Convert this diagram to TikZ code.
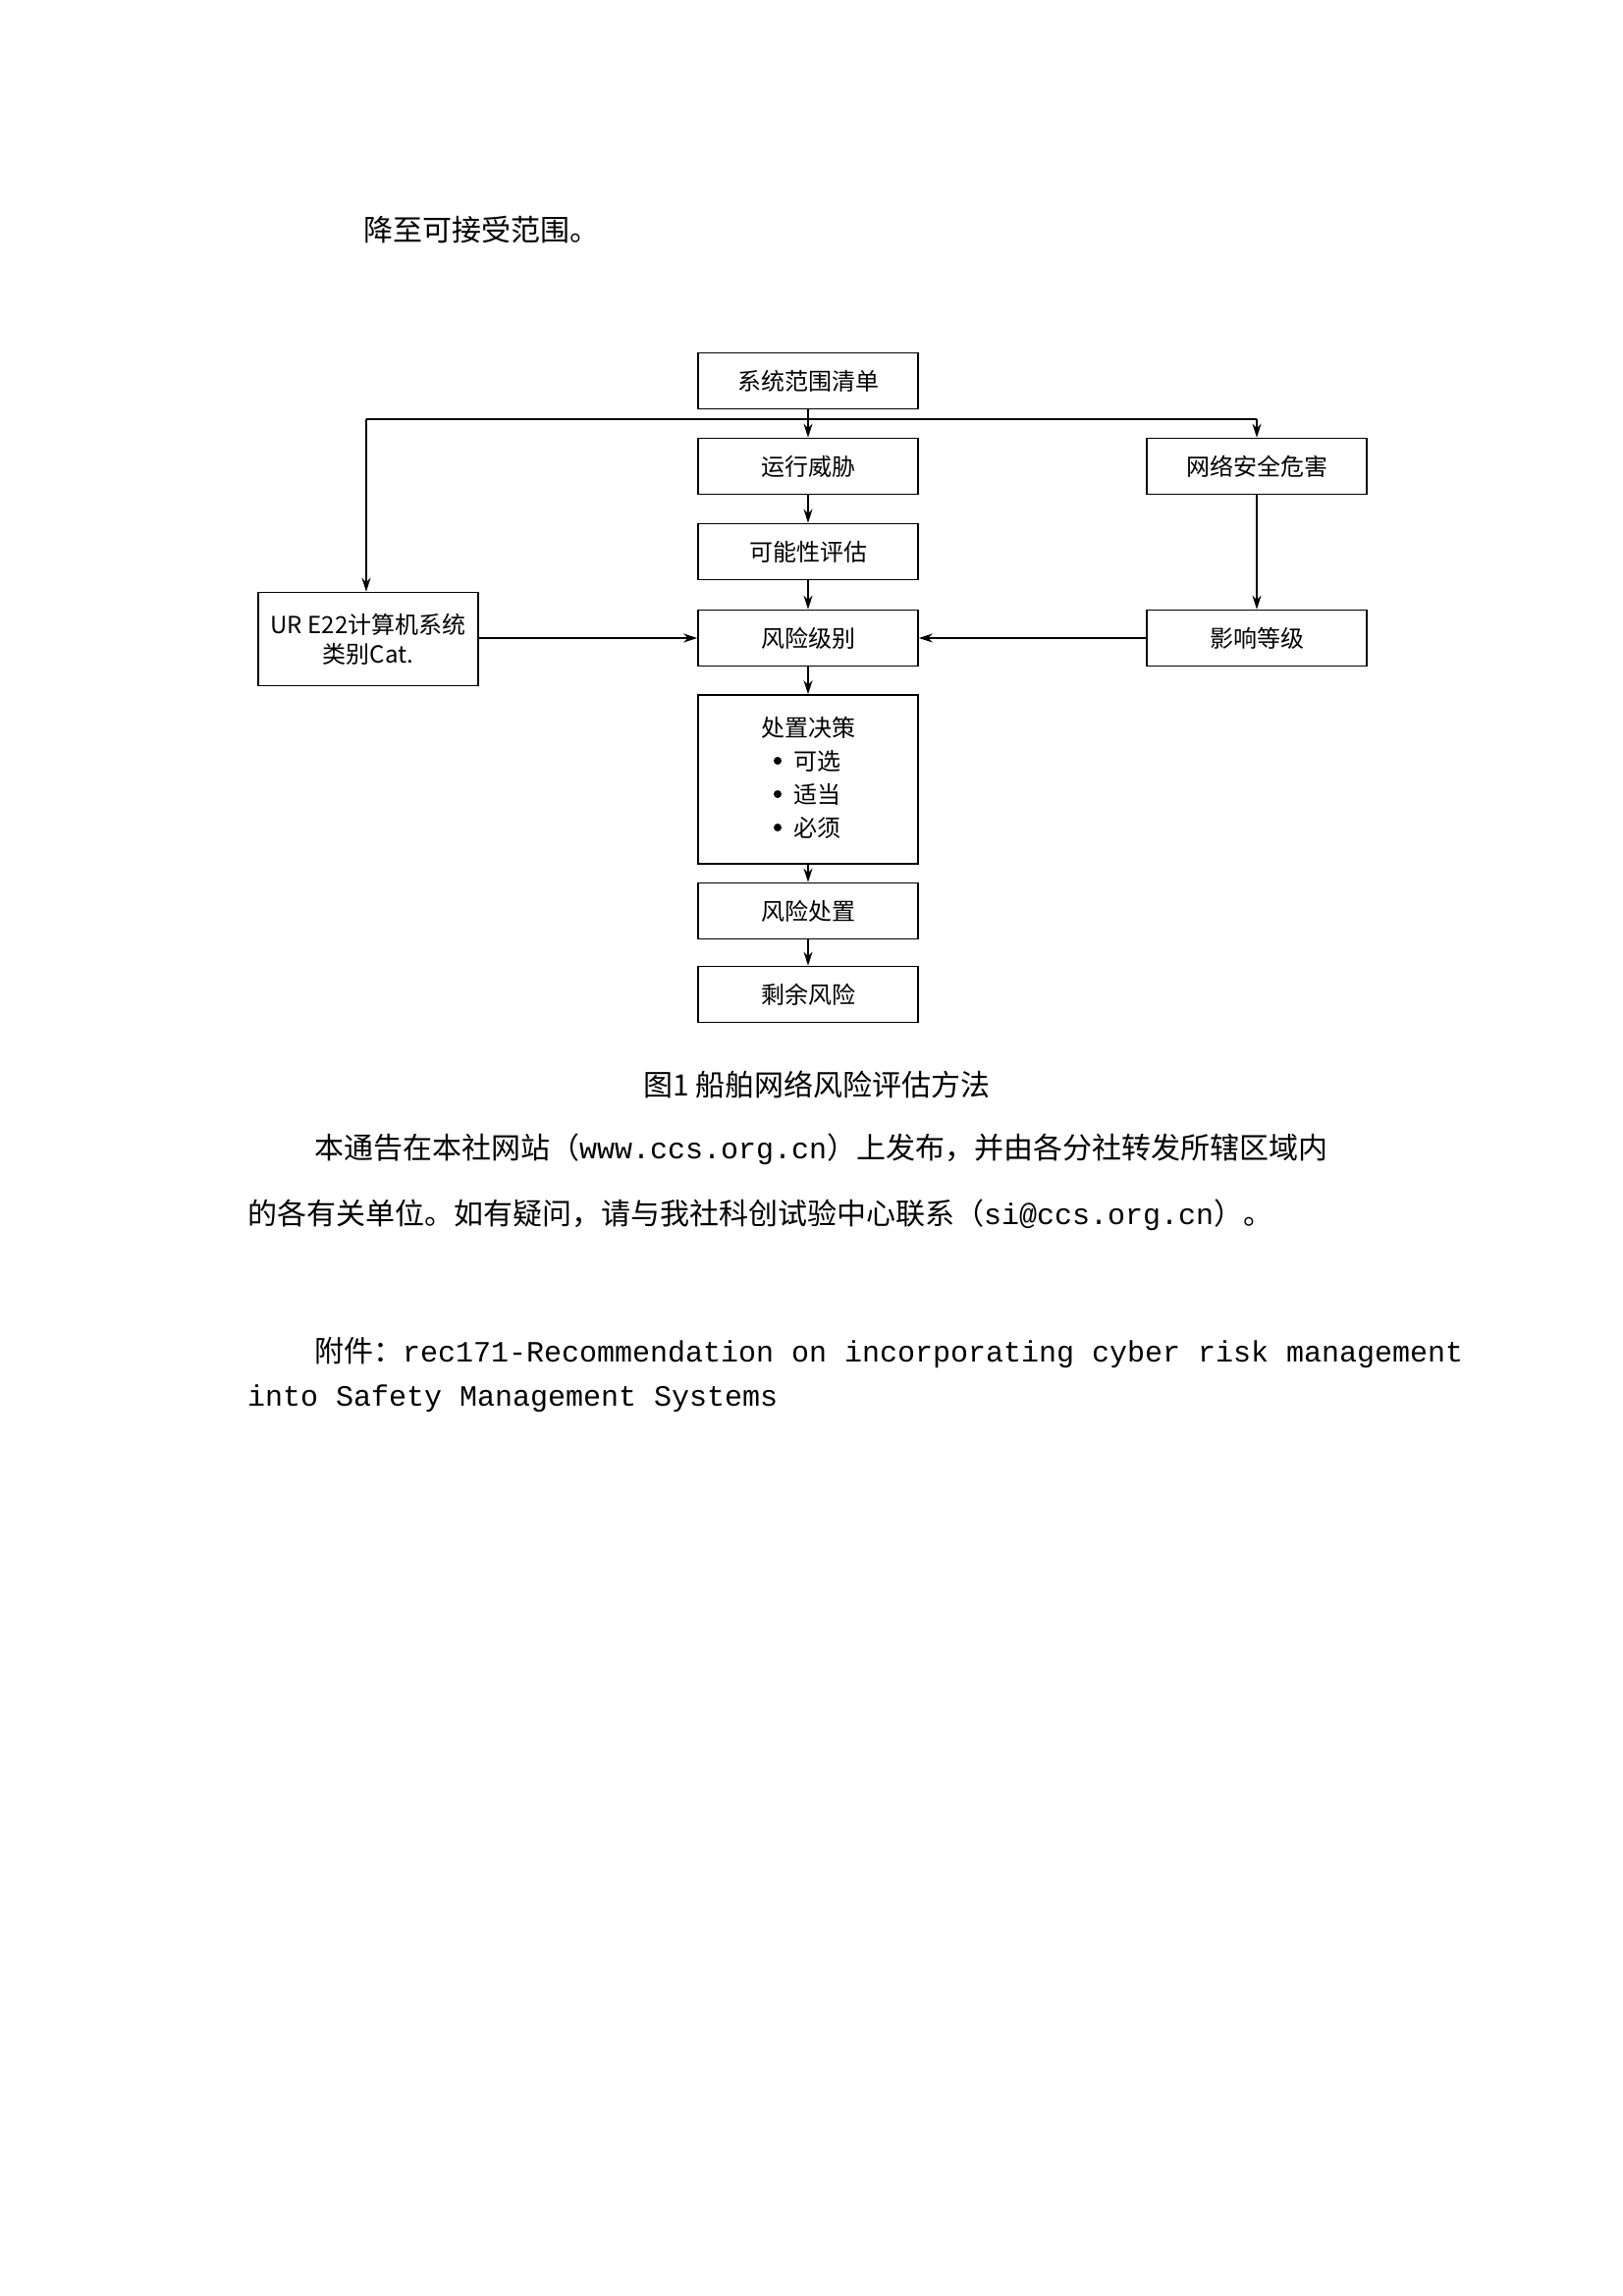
\documentclass[tikz,border=0pt]{standalone}
\usepackage{fontspec}
\setmainfont{Liberation Mono}
\newfontfamily\cjk{Noto Sans CJK SC}
\usetikzlibrary{arrows.meta}
\begin{document}
\begin{tikzpicture}[x=1pt,y=-1pt,
  bx/.style={draw,line width=1.6pt,minimum width=224pt,minimum height=57pt,inner sep=0pt,font=\cjk\fontsize{24}{30}\selectfont,align=center},
  ar/.style={line width=1.6pt,-{Stealth[length=14pt,width=9pt]}},
  ln/.style={line width=1.6pt},
  body/.style={anchor=base west,inner sep=0pt,font=\fontsize{30}{36}\selectfont}]
\useasboundingbox (0,0) rectangle (1653,2339);
\node[body] (t0) at (370,245) {\cjk 降至可接受范围。};
\node[bx] (a) at (823,388) {系统范围清单};
\node[bx] (b) at (823,475) {运行威胁};
\node[bx] (c) at (1280,475) {网络安全危害};
\node[bx] (d) at (823,562) {可能性评估};
\node[bx] (e) at (823,650) {风险级别};
\node[bx,minimum height=95pt] (u) at (375,651) {UR E22计算机系统\\类别Cat.};
\node[bx] (f) at (1280,650) {影响等级};
\node[bx,minimum height=172pt] (g) at (823,794) {};
\node[font=\cjk\fontsize{24}{30}\selectfont] (g1) at (823,741) {处置决策};
\foreach \yy/\tt [count=\i] in {775/可选,809/适当,843/必须}{
  \fill (792,\yy) circle (4pt);
  \node[anchor=west,font=\cjk\fontsize{24}{30}\selectfont,inner sep=0pt] (gi\i) at (808,\yy) {\tt};
}
\node[bx] (h) at (823,928) {风险处置};
\node[bx] (k) at (823,1013) {剩余风险};
\coordinate (j) at (823,427);
\coordinate (jl) at (373,427);
\coordinate (jr) at (1280,427);
\draw[ar] (a) -- (b);
\draw[ln] (jl) -- (jr);
\draw[ar] (jl) -- (u.north -| jl);
\draw[ar] (jr) -- (c);
\draw[ar] (b) -- (d);
\draw[ar] (d) -- (e);
\draw[ar] (c) -- (f);
\draw[ar] (u.east |- e) -- (e);
\draw[ar] (f) -- (e);
\draw[ar] (e) -- (g);
\draw[ar] (g) -- (h);
\draw[ar] (h) -- (k);
\node[font=\cjk\fontsize{30}{36}\selectfont] (cap) at (832,1105) {图1 船舶网络风险评估方法};
\node[body] (p1) at (320,1180) {{\cjk 本通告在本社网站（}www.ccs.org.cn{\cjk ）上发布，并由各分社转发所辖区域内}};
\node[body] (p2) at (252,1247) {{\cjk 的各有关单位。如有疑问，请与我社科创试验中心联系（}si@ccs.org.cn{\cjk ）。}};
\node[body] (p3) at (320,1387) {{\cjk 附件：}rec171-Recommendation on incorporating cyber risk management};
\node[body] (p4) at (252,1432) {into Safety Management Systems};
\end{tikzpicture}
\end{document}
